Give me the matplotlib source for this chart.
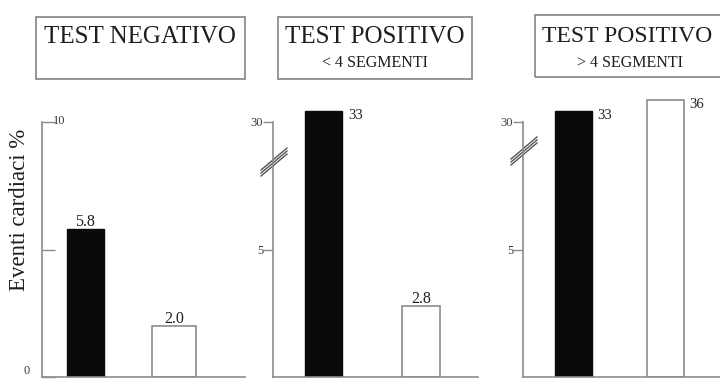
import numpy as np
import matplotlib
matplotlib.use("Agg")
import matplotlib.pyplot as plt
from matplotlib.patches import Rectangle
from matplotlib.lines import Line2D

plt.rcParams['font.family'] = ['Liberation Serif', 'DejaVu Serif']

# ── Data ───────────────────────────────────────────────────────────
titles = ["TEST NEGATIVO", "TEST POSITIVO", "TEST POSITIVO"]
subtitles = ["", "< 4 SEGMENTI", "> 4 SEGMENTI"]
black_values = [5.8, 33, 33]
white_values = [2.0, 2.8, 36]
black_labels = ["5.8", "33", "33"]
white_labels = ["2.0", "2.8", "36"]

# ── Layout (pixels) ────────────────────────────────────────────────
W, H = 720, 381
BASE_Y, TOP_Y = 377, 90
PX_PER_UNIT = 25.5
axes_x = [(42, 245), (273, 478), (523, 720)]
xlims = [(-0.49, 1.80), (-0.52, 1.58), (-0.55, 1.59)]
black_w = [0.42, 0.38, 0.40]
white_w = [0.50, 0.39, 0.40]
boxes = [(36, 17, 245, 79), (278, 17, 472, 79), (535, 15, 750, 77)]
title_x = [140, 375, 627]
title_size = [18, 18, 17]
sub_x = [140, 375, 630]
break_y = [None, 162, 151]

GRAY = "#8c8c8c"
TXT = "#1e1e1e"
TICK_TXT = "#3a3a3a"

# broken axis: 0-8.5 linear, 8.5-30 squeezed, above 30 compressed
knots_v = [0, 8.5, 30, 100]
knots_u = [0, 8.5, 10, 10 + 70 * 0.146]


def fwd(v):
    return np.interp(v, knots_v, knots_u)


def inv(u):
    return np.interp(u, knots_u, knots_v)


fig = plt.figure(figsize=(W / 100, H / 100), dpi=100)
fig.patch.set_facecolor("white")

u_top = (BASE_Y - TOP_Y) / PX_PER_UNIT

for i in range(3):
    x0, x1 = axes_x[i]
    ax = fig.add_axes([x0 / W, 1 - BASE_Y / H, (x1 - x0) / W, (BASE_Y - TOP_Y) / H])
    broken = i > 0
    if broken:
        ax.set_yscale("function", functions=(fwd, inv))
        ax.set_ylim(0, float(inv(u_top)))
    else:
        ax.set_ylim(0, u_top)
    ax.set_xlim(*xlims[i])

    ax.bar(0, black_values[i], width=black_w[i], color="#0a0a0a", edgecolor="#0a0a0a", linewidth=1)
    ax.bar(1, white_values[i], width=white_w[i], color="white", edgecolor=GRAY, linewidth=1.2)

    # value labels: beside the bar when above the break, on top otherwise
    for x, v, lab, w in [(0, black_values[i], black_labels[i], black_w[i]),
                         (1, white_values[i], white_labels[i], white_w[i])]:
        if v > 30:
            ax.annotate(lab, xy=(x + w / 2, v), xytext=(4, 1), textcoords="offset points",
                        ha="left", va="top", fontsize=10.5, color=TXT)
        else:
            ax.annotate(lab, xy=(x, v), xytext=(0, -1), textcoords="offset points",
                        ha="center", va="bottom", fontsize=11.5, color=TXT)

    for s in ["top", "right"]:
        ax.spines[s].set_visible(False)
    for s in ["left", "bottom"]:
        ax.spines[s].set_color(GRAY)
        ax.spines[s].set_linewidth(1.2)
    ax.set_xticks([])

    if broken:
        ax.spines["left"].set_bounds(0, 30)
        ax.set_yticks([5, 30], ["5", "30"])
        ax.tick_params(axis="y", direction="out", length=7, width=1, color=GRAY,
                       labelsize=9, labelcolor=TICK_TXT, pad=0)
        # break marks
        yc = (BASE_Y - break_y[i]) / (BASE_Y - TOP_Y)
        dx = 13 / (x1 - x0)
        dy = 11 / (BASE_Y - TOP_Y)
        for k in (-1, 0, 1):
            off = k * 3 / (BASE_Y - TOP_Y)
            ax.add_line(Line2D([-dx + 0.005, dx + 0.005], [yc - dy + off, yc + dy + off],
                               transform=ax.transAxes, color="#555555", lw=1.0, clip_on=False))
    else:
        ax.spines["left"].set_bounds(0, 10)
        ax.set_yticks([0, 5, 10], ["0", "", ""])
        ax.tick_params(axis="y", direction="in", length=9, width=1, color=GRAY,
                       labelsize=9, labelcolor=TICK_TXT, pad=9)
        ax.get_yticklabels()[0].set_va("bottom")
        ax.annotate("10", xy=(0, 10), xycoords=("axes fraction", "data"),
                    xytext=(8, 1), textcoords="offset points", ha="left", va="center",
                    fontsize=9, color=TICK_TXT)

# ── Title boxes ────────────────────────────────────────────────────
for i, (bx0, by0, bx1, by1) in enumerate(boxes):
    fig.add_artist(Rectangle((bx0 / W, 1 - by1 / H), (bx1 - bx0) / W, (by1 - by0) / H,
                             transform=fig.transFigure, fill=False, edgecolor=GRAY, linewidth=1.3))
    fig.text(title_x[i] / W, 1 - 37 / H, titles[i], ha="center", va="center",
             fontsize=title_size[i], color=TXT)
    if subtitles[i]:
        fig.text(sub_x[i] / W, 1 - 63 / H, subtitles[i], ha="center", va="center",
                 fontsize=11.5, color=TXT)

fig.text(20 / W, 1 - 210 / H, "Eventi cardiaci %", rotation=90, ha="center", va="center",
         fontsize=16.5, color=TXT)

fig.savefig("out.png", dpi=100)
